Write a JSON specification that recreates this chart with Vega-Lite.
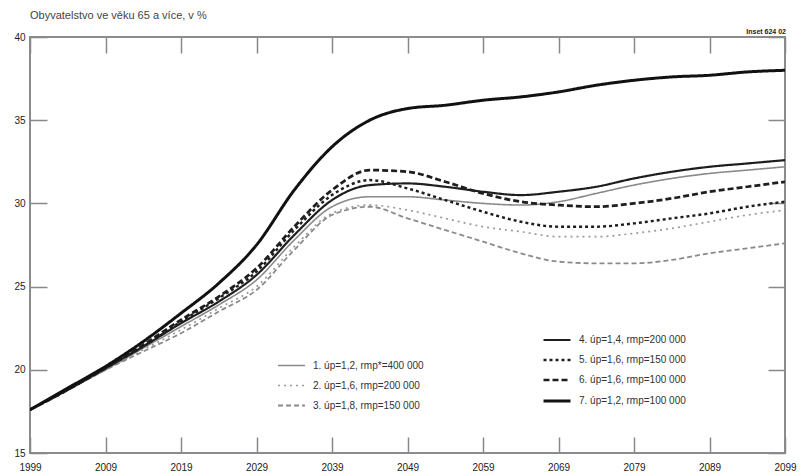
{
  "$schema": "https://vega.github.io/schema/vega-lite/v6.json",
  "width": 755,
  "height": 416,
  "autosize": {"type": "none"},
  "padding": {"left": 30, "top": 37, "right": 17, "bottom": 23},
  "background": "white",
  "config": {
    "view": {"stroke": "#8c8c8c", "strokeWidth": 2},
    "font": "Liberation Sans"
  },
  "title": {
    "text": "Obyvatelstvo ve věku 65 a více, v %",
    "anchor": "start",
    "frame": "group",
    "fontSize": 11,
    "fontWeight": "normal",
    "color": "#444444",
    "offset": 7
  },
  "datasets": {
    "series": [
      {"s": 1, "label": "1. úp=1,2, rmp*=400 000"},
      {"s": 2, "label": "2. úp=1,6, rmp=200 000"},
      {"s": 3, "label": "3. úp=1,8, rmp=150 000"},
      {"s": 4, "label": "4. úp=1,4, rmp=200 000"},
      {"s": 5, "label": "5. úp=1,6, rmp=150 000"},
      {"s": 6, "label": "6. úp=1,6, rmp=100 000"},
      {"s": 7, "label": "7. úp=1,2, rmp=100 000"}
    ],
    "pts": [
      {"s":1,"t":1999,"v":17.6},{"s":1,"t":2004,"v":18.8},{"s":1,"t":2009,"v":20.0},{"s":1,"t":2014,"v":21.3},{"s":1,"t":2019,"v":22.6},{"s":1,"t":2024,"v":23.9},{"s":1,"t":2029,"v":25.4},{"s":1,"t":2034,"v":27.8},{"s":1,"t":2039,"v":29.8},{"s":1,"t":2044,"v":30.4},{"s":1,"t":2049,"v":30.4},{"s":1,"t":2054,"v":30.2},{"s":1,"t":2059,"v":30.0},{"s":1,"t":2064,"v":29.9},{"s":1,"t":2069,"v":30.1},{"s":1,"t":2074,"v":30.6},{"s":1,"t":2079,"v":31.1},{"s":1,"t":2084,"v":31.5},{"s":1,"t":2089,"v":31.8},{"s":1,"t":2094,"v":32.0},{"s":1,"t":2099,"v":32.2},
      {"s":2,"t":1999,"v":17.6},{"s":2,"t":2004,"v":18.8},{"s":2,"t":2009,"v":20.0},{"s":2,"t":2014,"v":21.2},{"s":2,"t":2019,"v":22.4},{"s":2,"t":2024,"v":23.7},{"s":2,"t":2029,"v":25.0},{"s":2,"t":2034,"v":27.4},{"s":2,"t":2039,"v":29.4},{"s":2,"t":2044,"v":29.9},{"s":2,"t":2049,"v":29.6},{"s":2,"t":2054,"v":29.1},{"s":2,"t":2059,"v":28.6},{"s":2,"t":2064,"v":28.3},{"s":2,"t":2069,"v":28.0},{"s":2,"t":2074,"v":28.0},{"s":2,"t":2079,"v":28.2},{"s":2,"t":2084,"v":28.5},{"s":2,"t":2089,"v":28.9},{"s":2,"t":2094,"v":29.3},{"s":2,"t":2099,"v":29.6},
      {"s":3,"t":1999,"v":17.6},{"s":3,"t":2004,"v":18.8},{"s":3,"t":2009,"v":20.0},{"s":3,"t":2014,"v":21.1},{"s":3,"t":2019,"v":22.2},{"s":3,"t":2024,"v":23.5},{"s":3,"t":2029,"v":24.8},{"s":3,"t":2034,"v":27.2},{"s":3,"t":2039,"v":29.3},{"s":3,"t":2044,"v":29.8},{"s":3,"t":2049,"v":29.1},{"s":3,"t":2054,"v":28.4},{"s":3,"t":2059,"v":27.7},{"s":3,"t":2064,"v":27.0},{"s":3,"t":2069,"v":26.5},{"s":3,"t":2074,"v":26.4},{"s":3,"t":2079,"v":26.4},{"s":3,"t":2084,"v":26.6},{"s":3,"t":2089,"v":27.0},{"s":3,"t":2094,"v":27.3},{"s":3,"t":2099,"v":27.6},
      {"s":4,"t":1999,"v":17.6},{"s":4,"t":2004,"v":18.8},{"s":4,"t":2009,"v":20.1},{"s":4,"t":2014,"v":21.4},{"s":4,"t":2019,"v":22.8},{"s":4,"t":2024,"v":24.1},{"s":4,"t":2029,"v":25.7},{"s":4,"t":2034,"v":28.1},{"s":4,"t":2039,"v":30.2},{"s":4,"t":2044,"v":31.1},{"s":4,"t":2049,"v":31.2},{"s":4,"t":2054,"v":31.0},{"s":4,"t":2059,"v":30.7},{"s":4,"t":2064,"v":30.5},{"s":4,"t":2069,"v":30.7},{"s":4,"t":2074,"v":31.0},{"s":4,"t":2079,"v":31.5},{"s":4,"t":2084,"v":31.9},{"s":4,"t":2089,"v":32.2},{"s":4,"t":2094,"v":32.4},{"s":4,"t":2099,"v":32.6},
      {"s":5,"t":1999,"v":17.6},{"s":5,"t":2004,"v":18.8},{"s":5,"t":2009,"v":20.1},{"s":5,"t":2014,"v":21.4},{"s":5,"t":2019,"v":22.9},{"s":5,"t":2024,"v":24.3},{"s":5,"t":2029,"v":25.9},{"s":5,"t":2034,"v":28.4},{"s":5,"t":2039,"v":30.5},{"s":5,"t":2044,"v":31.4},{"s":5,"t":2049,"v":30.9},{"s":5,"t":2054,"v":30.2},{"s":5,"t":2059,"v":29.5},{"s":5,"t":2064,"v":28.9},{"s":5,"t":2069,"v":28.6},{"s":5,"t":2074,"v":28.6},{"s":5,"t":2079,"v":28.8},{"s":5,"t":2084,"v":29.1},{"s":5,"t":2089,"v":29.4},{"s":5,"t":2094,"v":29.8},{"s":5,"t":2099,"v":30.1},
      {"s":6,"t":1999,"v":17.6},{"s":6,"t":2004,"v":18.8},{"s":6,"t":2009,"v":20.1},{"s":6,"t":2014,"v":21.5},{"s":6,"t":2019,"v":23.0},{"s":6,"t":2024,"v":24.4},{"s":6,"t":2029,"v":26.1},{"s":6,"t":2034,"v":28.6},{"s":6,"t":2039,"v":30.8},{"s":6,"t":2044,"v":32.0},{"s":6,"t":2049,"v":31.9},{"s":6,"t":2054,"v":31.3},{"s":6,"t":2059,"v":30.6},{"s":6,"t":2064,"v":30.1},{"s":6,"t":2069,"v":29.9},{"s":6,"t":2074,"v":29.8},{"s":6,"t":2079,"v":30.0},{"s":6,"t":2084,"v":30.3},{"s":6,"t":2089,"v":30.7},{"s":6,"t":2094,"v":31.0},{"s":6,"t":2099,"v":31.3},
      {"s":7,"t":1999,"v":17.6},{"s":7,"t":2004,"v":18.9},{"s":7,"t":2009,"v":20.2},{"s":7,"t":2014,"v":21.7},{"s":7,"t":2019,"v":23.4},{"s":7,"t":2024,"v":25.2},{"s":7,"t":2029,"v":27.5},{"s":7,"t":2034,"v":30.8},{"s":7,"t":2039,"v":33.4},{"s":7,"t":2044,"v":35.0},{"s":7,"t":2049,"v":35.7},{"s":7,"t":2054,"v":35.9},{"s":7,"t":2059,"v":36.2},{"s":7,"t":2064,"v":36.4},{"s":7,"t":2069,"v":36.7},{"s":7,"t":2074,"v":37.1},{"s":7,"t":2079,"v":37.4},{"s":7,"t":2084,"v":37.6},{"s":7,"t":2089,"v":37.7},{"s":7,"t":2094,"v":37.9},{"s":7,"t":2099,"v":38.0}
    ],
    "note": [{"txt": "Inset 624 02"}]
  },
  "layer": [
    {
      "data": {"name": "pts"},
      "transform": [
        {"filter": "datum.s <= 3"},
        {"lookup": "s", "from": {"data": {"name": "series"}, "key": "s", "fields": ["label"]}}
      ],
      "mark": {"type": "line", "interpolate": "monotone", "clip": true},
      "encoding": {
        "x": {
          "field": "t", "type": "quantitative",
          "scale": {"domain": [1999, 2099], "nice": false, "zero": false},
          "axis": {
            "orient": "bottom", "title": null, "values": [1999, 2009, 2019, 2029, 2039, 2049, 2059, 2069, 2079, 2089, 2099],
            "format": "d", "domain": false, "tickSize": -16, "tickColor": "#888888", "tickWidth": 1.5,
            "labelFontSize": 10, "labelColor": "#222222", "labelPadding": 25, "labelFlush": false, "grid": false
          }
        },
        "y": {
          "field": "v", "type": "quantitative",
          "scale": {"domain": [15, 40], "nice": false, "zero": false},
          "axis": {
            "orient": "left", "title": null, "values": [15, 20, 25, 30, 35, 40],
            "domain": false, "tickSize": -17, "tickColor": "#888888", "tickWidth": 1.5,
            "labelFontSize": 10, "labelColor": "#222222", "labelPadding": 22, "grid": false
          }
        },
        "color": {
          "field": "label", "type": "ordinal",
          "scale": {"domain": ["1. úp=1,2, rmp*=400 000", "2. úp=1,6, rmp=200 000", "3. úp=1,8, rmp=150 000"], "range": ["#8a8a8a", "#9a9a9a", "#8a8a8a"]},
          "legend": {"orient": "none", "legendX": 247, "legendY": 314, "title": null, "symbolType": "stroke", "symbolSize": 729, "labelFontSize": 10, "labelColor": "#333333", "labelOffset": 7, "rowPadding": -7, "padding": 0}
        },
        "strokeDash": {
          "field": "label", "type": "ordinal",
          "scale": {"domain": ["1. úp=1,2, rmp*=400 000", "2. úp=1,6, rmp=200 000", "3. úp=1,8, rmp=150 000"], "range": [[1, 0], [2, 4], [5, 3]]},
          "legend": {"orient": "none", "legendX": 247, "legendY": 314, "title": null, "symbolType": "stroke", "symbolSize": 729, "labelFontSize": 10, "labelColor": "#333333", "labelOffset": 7, "rowPadding": -7, "padding": 0}
        },
        "strokeWidth": {
          "field": "label", "type": "ordinal",
          "scale": {"domain": ["1. úp=1,2, rmp*=400 000", "2. úp=1,6, rmp=200 000", "3. úp=1,8, rmp=150 000"], "range": [1.6, 1.8, 1.6]},
          "legend": {"orient": "none", "legendX": 247, "legendY": 314, "title": null, "symbolType": "stroke", "symbolSize": 729, "labelFontSize": 10, "labelColor": "#333333", "labelOffset": 7, "rowPadding": -7, "padding": 0}
        }
      }
    },
    {
      "data": {"name": "pts"},
      "transform": [
        {"filter": "datum.s >= 4"},
        {"lookup": "s", "from": {"data": {"name": "series"}, "key": "s", "fields": ["label"]}}
      ],
      "mark": {"type": "line", "interpolate": "monotone", "clip": true},
      "encoding": {
        "x": {
          "field": "t", "type": "quantitative",
          "axis": {
            "orient": "top", "title": null, "values": [1999, 2009, 2019, 2029, 2039, 2049, 2059, 2069, 2079, 2089, 2099],
            "labels": false, "domain": false, "tickSize": -16, "tickColor": "#888888", "tickWidth": 1.5, "grid": false
          }
        },
        "y": {
          "field": "v", "type": "quantitative",
          "axis": {
            "orient": "right", "title": null, "values": [15, 20, 25, 30, 35, 40],
            "labels": false, "domain": false, "tickSize": -17, "tickColor": "#888888", "tickWidth": 1.5, "grid": false
          }
        },
        "color": {
          "field": "label", "type": "ordinal",
          "scale": {"domain": ["4. úp=1,4, rmp=200 000", "5. úp=1,6, rmp=150 000", "6. úp=1,6, rmp=100 000", "7. úp=1,2, rmp=100 000"], "range": ["#1e1e1e", "#1e1e1e", "#1e1e1e", "#111111"]},
          "legend": {"orient": "none", "legendX": 512, "legendY": 288, "title": null, "symbolType": "stroke", "symbolSize": 729, "labelFontSize": 10, "labelColor": "#333333", "labelOffset": 7, "rowPadding": -6, "padding": 0}
        },
        "strokeDash": {
          "field": "label", "type": "ordinal",
          "scale": {"domain": ["4. úp=1,4, rmp=200 000", "5. úp=1,6, rmp=150 000", "6. úp=1,6, rmp=100 000", "7. úp=1,2, rmp=100 000"], "range": [[1, 0], [3, 3], [6, 3], [1, 0]]},
          "legend": {"orient": "none", "legendX": 512, "legendY": 288, "title": null, "symbolType": "stroke", "symbolSize": 729, "labelFontSize": 10, "labelColor": "#333333", "labelOffset": 7, "rowPadding": -6, "padding": 0}
        },
        "strokeWidth": {
          "field": "label", "type": "ordinal",
          "scale": {"domain": ["4. úp=1,4, rmp=200 000", "5. úp=1,6, rmp=150 000", "6. úp=1,6, rmp=100 000", "7. úp=1,2, rmp=100 000"], "range": [2.2, 3, 2.6, 3.6]},
          "legend": {"orient": "none", "legendX": 512, "legendY": 288, "title": null, "symbolType": "stroke", "symbolSize": 729, "labelFontSize": 10, "labelColor": "#333333", "labelOffset": 7, "rowPadding": -6, "padding": 0}
        }
      }
    },
    {
      "data": {"name": "note"},
      "mark": {"type": "text", "align": "right", "baseline": "bottom", "dy": -2, "dx": 1, "fontSize": 7, "fontWeight": "bold", "color": "#222222"},
      "encoding": {
        "x": {"datum": 2099, "type": "quantitative", "axis": null},
        "y": {"datum": 40, "type": "quantitative", "axis": null},
        "text": {"field": "txt"}
      }
    }
  ],
  "resolve": {
    "scale": {"color": "independent", "strokeDash": "independent", "strokeWidth": "independent"},
    "axis": {"x": "independent", "y": "independent"}
  }
}
